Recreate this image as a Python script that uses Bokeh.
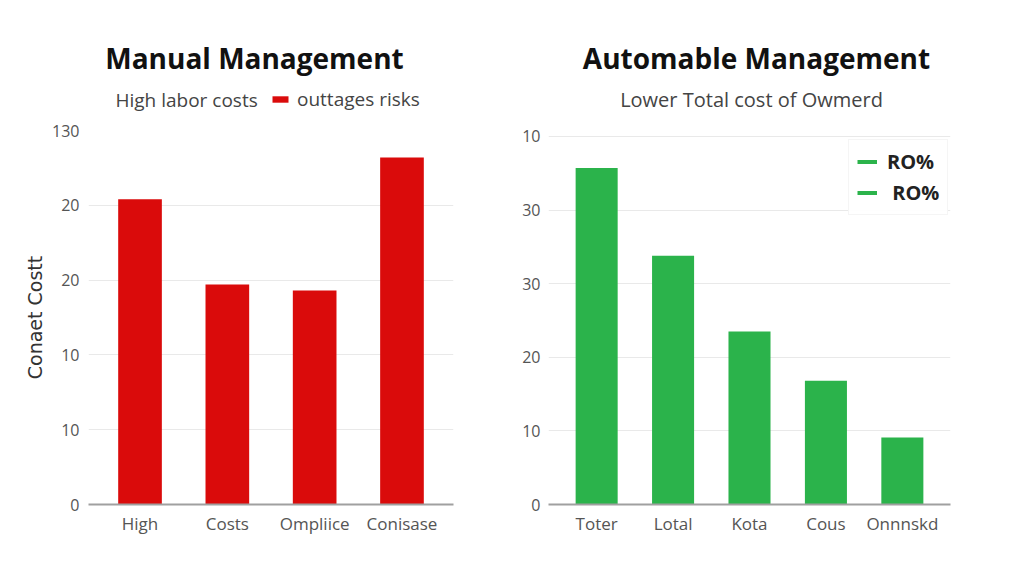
import math
from bokeh.plotting import figure
from bokeh.models import (FactorRange, Range1d, FixedTicker, Label, Legend, LegendItem, ColumnDataSource)
from bokeh.layouts import row, column
from bokeh.embed import file_html
from bokeh.resources import INLINE

# ---- data ----
manual_categories = ["High", "Costs", "Ompliice", "Conisase"]
manual_values = [4.08, 2.94, 2.86, 4.64]
manual_ticks = [0, 1, 2, 3, 4, 5]
manual_tick_labels = ["0", "10", "10", "20", "20", "130"]

auto_categories = ["Toter", "Lotal", "Kota", "Cous", "Onnnskd"]
auto_values = [4.57, 3.38, 2.35, 1.68, 0.91]
auto_ticks = [0, 1, 2, 3, 4, 5]
auto_tick_labels = ["0", "10", "20", "30", "30", "10"]

manual_title = "Manual Management"
manual_sub_left = "High labor costs"
manual_sub_legend = "outtages risks"
manual_ylabel = "Conaet Costt"
auto_title = "Automable Management"
auto_sub = "Lower Total cost of Owmerd"
roi_labels = ["RO%", " RO%"]

RED = "#da0b0b"
GREEN = "#2bb34b"
FONT = "Open Sans"
NAN = float("nan")

W = 1016
HEAD_H = 120

# ---- header (titles / subtitles) ----
head = figure(width=W, height=HEAD_H, output_backend="svg", toolbar_location=None, title=None,
              x_range=Range1d(0, W), y_range=Range1d(HEAD_H, 0),
              x_axis_location=None, y_axis_location=None, min_border=0)
head.grid.grid_line_color = None
head.outline_line_color = None

def head_label(x, y, text, size, bold=False, align="center", color="#111111"):
    head.add_layout(Label(x=x, y=y, text=text, text_align=align, text_baseline="middle",
                          text_font=FONT, text_font_size=size,
                          text_font_style="bold" if bold else "normal", text_color=color))

head_label(254, 57, manual_title, "28px", bold=True)
head_label(756, 57, auto_title, "28px", bold=True)
head_label(115, 99, manual_sub_left, "19px", align="left", color="#444444")
head_label(751, 99, auto_sub, "20px", color="#444444")
swatch = head.vbar(x=[NAN], top=[NAN], width=1, fill_color=RED, line_color=None)
head.add_layout(Legend(items=[LegendItem(label=manual_sub_legend, renderers=[swatch])],
                       location=(270, HEAD_H - 112), padding=0, margin=0, border_line_color=None,
                       background_fill_alpha=0, glyph_width=20, glyph_height=8, label_height=20,
                       label_standoff=7, label_text_font=FONT, label_text_font_size="19px",
                       label_text_color="#444444"), "center")


def style(p, ticks, labels, standoff):
    p.outline_line_color = None
    p.xgrid.grid_line_color = None
    p.ygrid.grid_line_color = "#e9e9e9"
    p.ygrid.ticker = FixedTicker(ticks=ticks)
    p.yaxis.ticker = FixedTicker(ticks=ticks)
    p.yaxis.major_label_overrides = {t: l for t, l in zip(ticks, labels)}
    p.yaxis.axis_line_color = None
    p.yaxis.major_tick_line_color = None
    p.yaxis.minor_tick_line_color = None
    p.yaxis.major_label_standoff = standoff
    p.xaxis.axis_line_color = "#a0a0a0"
    p.xaxis.axis_line_width = 2
    p.xaxis.major_tick_line_color = None
    p.xaxis.minor_tick_line_color = None
    p.xaxis.major_label_standoff = 1
    p.xaxis.major_label_text_font_size = "17px"
    p.yaxis.major_label_text_font_size = "16px"
    for ax in (p.xaxis[0], p.yaxis[0]):
        ax.major_label_text_font = FONT
        ax.major_label_text_color = "#555555"


CH_H = 460
# ---- left chart ----
p1 = figure(width=508, height=CH_H, output_backend="svg", toolbar_location=None, title=None,
            x_range=FactorRange(*manual_categories, range_padding=0.09, range_padding_units="absolute"),
            y_range=Range1d(0, 5),
            min_border_left=88, min_border_right=55, min_border_top=10, min_border_bottom=76)
style(p1, manual_ticks, manual_tick_labels, 3)
p1.yaxis.axis_label = manual_ylabel
p1.yaxis.axis_label_text_font = "DejaVu Sans"
p1.yaxis.axis_label_text_font_style = "normal"
p1.yaxis.axis_label_text_font_size = "19px"
p1.yaxis.axis_label_text_color = "#333333"
p1.yaxis.axis_label_standoff = 3
src1 = ColumnDataSource(dict(x=manual_categories, top=manual_values))
p1.vbar(x="x", top="top", width=0.5, source=src1, fill_color=RED, line_color=None)

# ---- right chart ----
p2 = figure(width=508, height=CH_H, output_backend="svg", toolbar_location=None, title=None,
            x_range=FactorRange(*auto_categories, range_padding=0.13, range_padding_units="absolute"),
            y_range=Range1d(0, 5.08),
            min_border_left=40, min_border_right=66, min_border_top=10, min_border_bottom=76)
style(p2, auto_ticks, auto_tick_labels, 2)
src2 = ColumnDataSource(dict(x=auto_categories, top=auto_values))
p2.vbar(x="x", top="top", width=0.55, source=src2, fill_color=GREEN, line_color=None)

items = []
for lab in roi_labels:
    r = p2.line(x=[auto_categories[0]], y=[NAN], line_color=GREEN, line_width=4)
    items.append(LegendItem(label=lab, renderers=[r]))
p2.add_layout(Legend(items=items, location=(300, 289), margin=0, padding=8, spacing=4,
                     border_line_color="#ececec", background_fill_color="white",
                     glyph_width=20, glyph_height=23, label_height=23, label_standoff=10,
                     label_text_font=FONT, label_text_font_size="20px", label_text_font_style="bold",
                     label_text_color="#222222"), "center")

layout = column(head, row(p1, p2))
open("out.html", "w").write(file_html(layout, INLINE))
